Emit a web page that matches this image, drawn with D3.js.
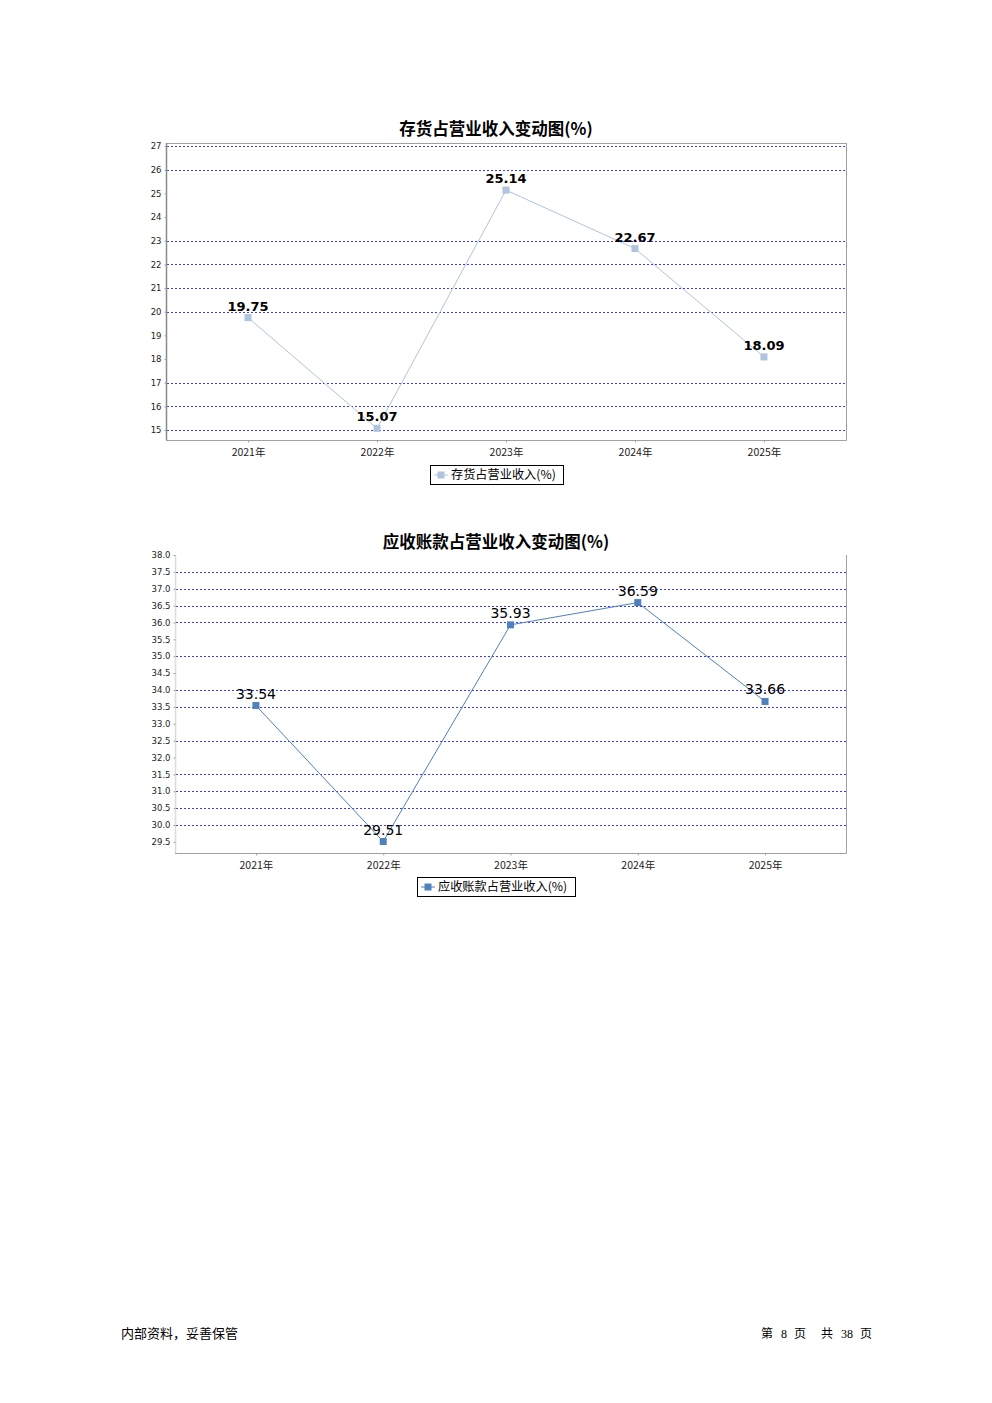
<!DOCTYPE html>
<html>
<head>
<meta charset="utf-8">
<script src="https://cdn.jsdelivr.net/npm/d3@7"></script>
<style>
  html, body { margin: 0; padding: 0; background: #fff; }
  svg { display: block; }
</style>
</head>
<body>
<svg id="page" width="992" height="1403"></svg>
<script>
// ---- Data ----
const categories = ["2021年", "2022年", "2023年", "2024年", "2025年"];

const inventoryTitle = "存货占营业收入变动图(%)";
const inventorySeriesName = "存货占营业收入(%)";
const inventoryValues = [19.75, 15.07, 25.14, 22.67, 18.09];
const inventoryTicks = [15, 16, 17, 18, 19, 20, 21, 22, 23, 24, 25, 26, 27];
const inventoryTickLabels = ["15", "16", "17", "18", "19", "20", "21", "22", "23", "24", "25", "26", "27"];
const inventoryGridTicks = [15, 16, 17, 20, 21, 22, 23, 26, 27];
const inventoryDomain = [14.58, 27.13];

const receivableTitle = "应收账款占营业收入变动图(%)";
const receivableSeriesName = "应收账款占营业收入(%)";
const receivableValues = [33.54, 29.51, 35.93, 36.59, 33.66];
const receivableTicks = [29.5, 30.0, 30.5, 31.0, 31.5, 32.0, 32.5, 33.0, 33.5, 34.0, 34.5, 35.0, 35.5, 36.0, 36.5, 37.0, 37.5, 38.0];
const receivableTickLabels = ["29.5", "30.0", "30.5", "31.0", "31.5", "32.0", "32.5", "33.0", "33.5", "34.0", "34.5", "35.0", "35.5", "36.0", "36.5", "37.0", "37.5", "38.0"];
const receivableGridTicks = [30.0, 30.5, 31.0, 31.5, 32.5, 33.5, 34.0, 35.0, 36.0, 36.5, 37.0, 37.5];
const receivableDomain = [29.17, 38.0];

const footerLeft = "内部资料，妥善保管";
const footerRight = ["第", "8", "页", "共", "38", "页"];

// ---- Drawing ----
const svg = d3.select("#page");
const CJK = "'Noto Sans CJK SC', 'DejaVu Sans', sans-serif";
const SANS = "'DejaVu Sans', sans-serif";

function drawChart(cfg) {
  const g = svg.append("g");
  const x = d3.scalePoint().domain(categories).range([cfg.left, cfg.right]).padding(0.636);
  const y = d3.scaleLinear().domain(cfg.domain).range([cfg.bottom, cfg.top]);

  // title
  g.append("text")
    .attr("x", 496)
    .attr("y", cfg.titleY)
    .attr("text-anchor", "middle")
    .attr("font-family", CJK)
    .attr("font-weight", "bold")
    .attr("font-size", 16.5)
    .attr("fill", "#000")
    .text(cfg.title);

  // gridlines
  g.append("g").selectAll("line")
    .data(cfg.gridTicks)
    .join("line")
    .attr("x1", cfg.left + 1)
    .attr("x2", cfg.right)
    .attr("y1", d => Math.round(y(d)) + 0.5)
    .attr("y2", d => Math.round(y(d)) + 0.5)
    .attr("stroke", "#3a3aff")
    .attr("stroke-width", 1)
    .attr("stroke-dasharray", "2,2");

  // plot outline
  if (cfg.topBorder) {
    g.append("line").attr("x1", cfg.left).attr("x2", cfg.right + 0.5)
      .attr("y1", cfg.top + 0.5).attr("y2", cfg.top + 0.5)
      .attr("stroke", "#a0a0a0");
  }
  g.append("line").attr("x1", cfg.right + 0.5).attr("x2", cfg.right + 0.5)
    .attr("y1", cfg.top).attr("y2", cfg.bottom + 0.5)
    .attr("stroke", "#a0a0a0");

  // y axis
  const yAxis = d3.axisLeft(y)
    .tickValues(cfg.ticks)
    .tickFormat((d, i) => cfg.tickLabels[i])
    .tickSize(2)
    .tickPadding(3);
  const ya = g.append("g")
    .attr("transform", `translate(${cfg.left + 0.5},0)`)
    .call(yAxis);
  ya.select(".domain").attr("stroke", cfg.leftAxisColor).attr("stroke-width", cfg.leftAxisWidth)
    .attr("d", `M0,${cfg.top}V${cfg.bottom}`);
  ya.selectAll(".tick line").attr("stroke", "#a0a0a0");
  ya.selectAll(".tick text")
    .attr("font-family", SANS)
    .attr("font-size", 8.5)
    .attr("fill", "#222");

  // x axis
  const xAxis = d3.axisBottom(x).tickSize(2).tickPadding(6);
  const xa = g.append("g")
    .attr("transform", `translate(0,${cfg.bottom + 0.5})`)
    .call(xAxis);
  xa.select(".domain").attr("stroke", "#a0a0a0").attr("d", `M${cfg.left},0H${cfg.right + 0.5}`);
  xa.selectAll(".tick line").attr("stroke", "#a0a0a0");
  xa.selectAll(".tick text")
    .attr("font-family", CJK)
    .attr("font-size", 10.5)
    .attr("fill", "#222");

  // series line
  const line = d3.line()
    .x((d, i) => x(categories[i]))
    .y(d => y(d));
  g.append("path")
    .datum(cfg.values)
    .attr("d", line)
    .attr("fill", "none")
    .attr("stroke", cfg.color)
    .attr("stroke-width", 1);

  // markers
  g.append("g").selectAll("rect")
    .data(cfg.values)
    .join("rect")
    .attr("x", (d, i) => x(categories[i]) - 3.5)
    .attr("y", d => y(d) - 3.5)
    .attr("width", 7)
    .attr("height", 7)
    .attr("fill", cfg.color);

  // value labels
  g.append("g").selectAll("text")
    .data(cfg.values)
    .join("text")
    .attr("x", (d, i) => x(categories[i]))
    .attr("y", d => y(d) - 7)
    .attr("text-anchor", "middle")
    .attr("font-family", SANS)
    .attr("font-weight", cfg.labelWeight)
    .attr("font-size", cfg.labelSize)
    .attr("fill", "#000")
    .text(d => d.toFixed(2));

  // legend
  const lg = g.append("g");
  const lw = cfg.legendW, lh = 19;
  const lx = cfg.legendX;
  const ly = cfg.legendY;
  lg.append("rect").attr("x", lx + 0.5).attr("y", ly + 0.5).attr("width", lw).attr("height", lh)
    .attr("fill", "#fff").attr("stroke", "#000").attr("stroke-width", 1);
  lg.append("line").attr("x1", lx + 4).attr("x2", lx + 18).attr("y1", ly + lh / 2 + 0.5).attr("y2", ly + lh / 2 + 0.5)
    .attr("stroke", cfg.color).attr("stroke-width", 1);
  lg.append("rect").attr("x", lx + 7.5).attr("y", ly + lh / 2 - 3).attr("width", 7).attr("height", 7)
    .attr("fill", cfg.color);
  lg.append("text").attr("x", lx + 21).attr("y", ly + lh / 2 + 4.5)
    .attr("font-family", CJK).attr("font-size", 12.2).attr("fill", "#000")
    .text(cfg.seriesName);
}

drawChart({
  title: inventoryTitle, seriesName: inventorySeriesName,
  values: inventoryValues, ticks: inventoryTicks, tickLabels: inventoryTickLabels,
  gridTicks: inventoryGridTicks, domain: inventoryDomain,
  left: 166, right: 846, top: 143, bottom: 440,
  titleY: 135,
  color: "#b0c4de", labelWeight: "bold", labelSize: 13,
  leftAxisColor: "#8a8a8a", leftAxisWidth: 1.5, topBorder: true,
  legendX: 430, legendY: 465, legendW: 133
});

drawChart({
  title: receivableTitle, seriesName: receivableSeriesName,
  values: receivableValues, ticks: receivableTicks, tickLabels: receivableTickLabels,
  gridTicks: receivableGridTicks, domain: receivableDomain,
  left: 175, right: 846, top: 555, bottom: 853,
  titleY: 548,
  color: "#4f81bd", labelWeight: "normal", labelSize: 14,
  leftAxisColor: "#dcdcdc", leftAxisWidth: 1.5, topBorder: false,
  legendX: 417, legendY: 877, legendW: 158
});

// footer
svg.append("text").attr("x", 121).attr("y", 1338)
  .attr("font-family", CJK).attr("font-size", 13).attr("fill", "#000")
  .text(footerLeft);

const footerX = [761, 781, 794, 821, 841, 860];
svg.append("g").selectAll("text")
  .data(footerRight)
  .join("text")
  .attr("x", (d, i) => footerX[i])
  .attr("y", 1338)
  .attr("font-family", d => /\d/.test(d) ? "'Liberation Serif', serif" : CJK)
  .attr("font-size", 12)
  .attr("fill", "#000")
  .text(d => d);
</script>
</body>
</html>
